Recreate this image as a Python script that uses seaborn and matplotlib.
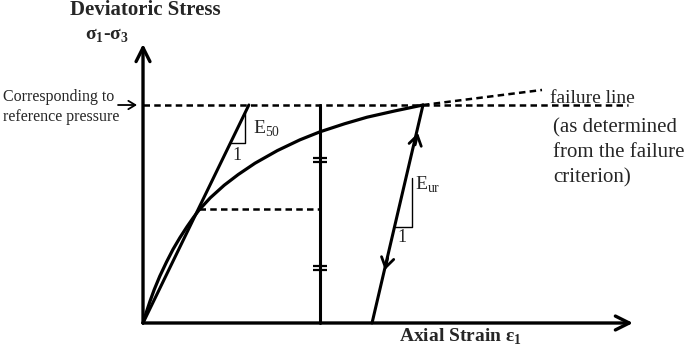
import matplotlib
matplotlib.use("Agg")
import seaborn as sns
import matplotlib.pyplot as plt

# stress-strain curve (hyperbolic); stress normalised to q_f = 1
curve_strain = [0.0, 0.06, 0.125, 0.2, 0.3, 0.42, 0.536, 0.66, 0.786, 0.9, 1.0, 1.2,
                1.45, 1.7, 2.0, 2.4, 2.8, 3.16, 3.6, 4.0, 4.5, 5.0]
curve_stress = [0.0, 0.05, 0.1, 0.153, 0.215, 0.28, 0.338, 0.392, 0.442, 0.484, 0.518, 0.574,
                0.632, 0.681, 0.733, 0.791, 0.840, 0.877, 0.914, 0.944, 0.973, 1.0]

# secant stiffness E50 and unload/reload line Eur
e50_strain = [0.0, 1.89]
e50_stress = [0.0, 1.0]
ur_strain = [4.09, 5.0]
ur_stress = [0.0, 1.0]

# failure line and its continuation
fail_strain = [0.0, 8.66]
fail_stress = [1.0, 1.0]
ext_strain = [5.0, 7.125]
ext_stress = [1.0, 1.069]

# half failure stress level and the vertical guide with its break marks
half_strain = [1.0, 3.16]
half_stress = [0.523, 0.523]
guide_strain = [3.16, 3.16]
guide_stress = [0.0, 1.0]
break_stress = [0.252, 0.748]

# slope triangles
e50_tri_strain = [1.56, 1.82, 1.82]
e50_tri_stress = [0.826, 0.826, 0.963]
ur_tri_strain = [4.5, 4.80, 4.80]
ur_tri_stress = [0.44, 0.44, 0.665]

# axes extents
x_axis_end = 8.75
y_axis_end = 1.28

failure_text = ["failure line", "(as determined", "from the failure", "criterion)"]
failure_text_y = [1.030, 0.897, 0.782, 0.668]


def draw_line(ax, x, y, lw=2.2, dashed=False):
    ls = (0, (2.6, 1.7)) if dashed else "-"
    sns.lineplot(x=x, y=y, ax=ax, sort=False, estimator=None, color="black",
                 lw=lw, linestyle=ls)


def arrow(ax, start, end, lw=2.0, style="->,head_length=0.7,head_width=0.45"):
    ax.annotate("", xy=end, xytext=start,
                arrowprops=dict(arrowstyle=style, lw=lw, color="black",
                                shrinkA=0, shrinkB=0))


def main():
    sns.set_style("white")
    plt.rcParams["font.family"] = ["Liberation Serif", "DejaVu Serif"]
    plt.rcParams["mathtext.fontset"] = "custom"
    plt.rcParams["mathtext.rm"] = "Liberation Serif"
    plt.rcParams["mathtext.bf"] = "Liberation Serif:bold"

    fig = plt.figure(figsize=(6.85, 3.48), dpi=100)
    ax = fig.add_axes([0, 0, 1, 1])
    ax.set_xlim(-2.554, 9.679)
    ax.set_ylim(-0.1147, 1.4817)
    ax.axis("off")

    # coordinate axes
    arrow(ax, (0, 0), (x_axis_end, 0), lw=2.4, style="->,head_length=1.0,head_width=0.5")
    arrow(ax, (0, 0), (0, y_axis_end), lw=2.4, style="->,head_length=1.0,head_width=0.5")

    draw_line(ax, curve_strain, curve_stress, lw=2.3)
    draw_line(ax, e50_strain, e50_stress)
    draw_line(ax, ur_strain, ur_stress)
    draw_line(ax, fail_strain, fail_stress, lw=1.8, dashed=True)
    draw_line(ax, ext_strain, ext_stress, lw=1.8, dashed=True)
    draw_line(ax, half_strain, half_stress, lw=1.8, dashed=True)
    draw_line(ax, guide_strain, guide_stress)
    for q in break_stress:
        ax.hlines([q - 0.008, q + 0.008], 3.035, 3.285, color="black", lw=1.6)

    draw_line(ax, e50_tri_strain, e50_tri_stress, lw=1.0)
    draw_line(ax, ur_tri_strain, ur_tri_stress, lw=1.0)

    # loading direction arrows on the unload/reload line
    arrow(ax, (4.86, 0.817), (4.91, 0.872), lw=2.0)
    arrow(ax, (4.37, 0.30), (4.32, 0.243), lw=2.0)

    # labels
    ax.text(0.036, 1.436, "Deviatoric Stress", ha="center", va="center",
            fontsize=15, fontweight="bold")
    ax.text(-0.643, 1.318, r"σ$_\mathbf{1}$-σ$_\mathbf{3}$", ha="center", va="center",
            fontsize=14, fontweight="bold")
    ax.text(5.66, -0.062, r"Axial Strain ε$_\mathbf{1}$", ha="center", va="center",
            fontsize=14, fontweight="bold")
    ax.text(-2.5, 1.037, "Corresponding to", ha="left", va="center", fontsize=11.5)
    ax.text(-2.5, 0.945, "reference pressure", ha="left", va="center", fontsize=11.5)
    arrow(ax, (-0.446, 1.0), (-0.107, 1.0), lw=1.3,
          style="->,head_length=0.5,head_width=0.3")

    for i, (line, y) in enumerate(zip(failure_text, failure_text_y)):
        x = 7.27 if i == 0 else 7.33
        ax.text(x, y, line, ha="left", va="center", fontsize=15 if i else 14)

    ax.text(1.96, 0.89, r"E$_{50}$", ha="left", va="center", fontsize=14)
    ax.text(1.68, 0.77, "1", ha="center", va="center", fontsize=13)
    ax.text(4.86, 0.633, r"E$_{\mathrm{ur}}$", ha="left", va="center", fontsize=14)
    ax.text(4.63, 0.394, "1", ha="center", va="center", fontsize=13)

    fig.savefig("out.png", dpi=100)


if __name__ == "__main__":
    main()
